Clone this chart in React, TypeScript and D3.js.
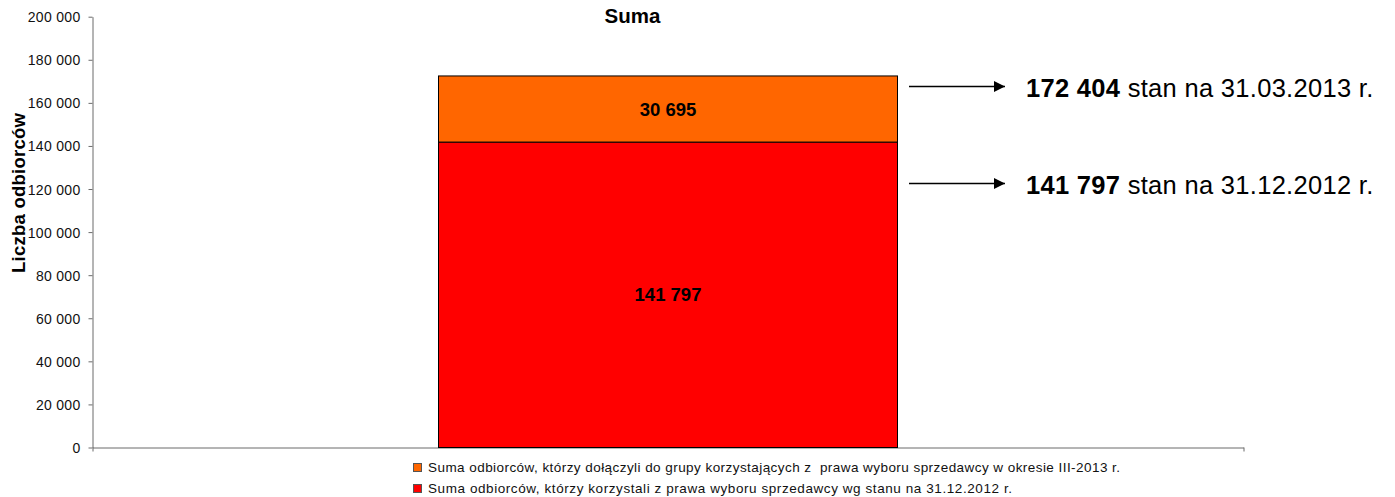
import * as d3 from "d3";
import React from "react";

// data
const categories = ["Suma"];
const baseValues = [141797]; // stan na 31.12.2012
const addedValues = [30695]; // dołączyli w okresie III-2013
const yTicks = [0, 20000, 40000, 60000, 80000, 100000, 120000, 140000, 160000, 180000, 200000];
const seriesNames = [
  "Suma odbiorców, którzy dołączyli do grupy korzystających z  prawa wyboru sprzedawcy w okresie III-2013 r.",
  "Suma odbiorców, którzy korzystali z prawa wyboru sprzedawcy wg stanu na 31.12.2012 r.",
];
const seriesColors = ["#FF6600", "#FF0000"];
const calloutBold = ["172 404", "141 797"];
const calloutText = [" stan na 31.03.2013 r.", " stan na 31.12.2012 r."];
// values where the callout arrows sit on the y scale
const calloutAt = [167600, 123000];

const W = 1395;
const H = 497;
const FONT = "'Liberation Sans', Arial, sans-serif";

const fmt = (v: number) => d3.format(",")(v).replace(/,/g, " ");

export default function App() {
  const svgRef = React.useRef<SVGSVGElement>(null);

  React.useEffect(() => {
    document.body.style.margin = "0";
    if (!svgRef.current) return;
    const svg = d3.select(svgRef.current);
    svg.selectAll("*").remove();

    const left = 92.5;
    const right = 1243.5;
    const y = d3.scaleLinear().domain([0, 200000]).range([447.5, 16.7]);
    const x = d3.scaleBand<string>().domain(categories).range([left, right]).paddingInner(0.4297).paddingOuter(0.4297);

    const axisColor = "#6b6b6b";

    // y axis
    const yAxis = d3.axisLeft<number>(y).tickValues(yTicks).tickSize(4).tickSizeOuter(0).tickPadding(8).tickFormat(fmt);
    const gy = svg.append("g").attr("transform", `translate(${left},0)`).call(yAxis as any);
    gy.select(".domain").attr("stroke", axisColor);
    gy.selectAll(".tick line").attr("stroke", axisColor);
    gy.selectAll(".tick text")
      .attr("fill", "#111")
      .attr("font-family", FONT)
      .attr("font-size", 14)
      .attr("letter-spacing", 0.3)
      .attr("dy", "0.36em");
    gy.attr("font-family", null).attr("font-size", null);

    // x axis (no labels, only category boundary ticks)
    const xl = d3.scaleLinear().domain([0, 1]).range([left, right]);
    const xAxis = d3.axisBottom<number>(xl).tickValues([0, 1]).tickSize(4).tickSizeOuter(0).tickFormat(() => "");
    const gx = svg.append("g").attr("transform", `translate(0,${y(0)})`).call(xAxis as any);
    gx.select(".domain").attr("stroke", axisColor);
    gx.selectAll(".tick line").attr("stroke", axisColor);

    // stacked bars
    const stackData = categories.map((c, i) => ({ cat: c, base: baseValues[i], added: addedValues[i] }));
    const stack = d3.stack<any>().keys(["base", "added"])(stackData);
    const colorFor: Record<string, string> = { base: seriesColors[1], added: seriesColors[0] };

    stack.forEach((layer) => {
      const g = svg.append("g");
      g.selectAll("rect")
        .data(layer)
        .enter()
        .append("rect")
        .attr("x", (d: any) => Math.round(x(d.data.cat)!) + 0.5)
        .attr("width", Math.round(x.bandwidth()))
        .attr("y", (d) => y(d[1]))
        .attr("height", (d) => y(d[0]) - y(d[1]))
        .attr("fill", colorFor[layer.key])
        .attr("stroke", "#000")
        .attr("stroke-width", 1);
      g.selectAll("text")
        .data(layer)
        .enter()
        .append("text")
        .attr("x", (d: any) => x(d.data.cat)! + x.bandwidth() / 2)
        .attr("y", (d) => (y(d[0]) + y(d[1])) / 2)
        .attr("dy", "0.36em")
        .attr("text-anchor", "middle")
        .attr("font-family", FONT)
        .attr("font-weight", "bold")
        .attr("font-size", 18.5)
        .attr("fill", "#000")
        .text((d) => fmt(d[1] - d[0]));
    });

    // title
    svg.append("text")
      .attr("x", 632.5)
      .attr("y", 23)
      .attr("text-anchor", "middle")
      .attr("font-family", FONT)
      .attr("font-weight", "bold")
      .attr("font-size", 20.5)
      .text("Suma");

    // y axis title
    svg.append("text")
      .attr("transform", `translate(25,193) rotate(-90)`)
      .attr("text-anchor", "middle")
      .attr("font-family", FONT)
      .attr("font-weight", "bold")
      .attr("font-size", 18.5)
      .attr("textLength", 160)
      .attr("lengthAdjust", "spacing")
      .text("Liczba odbiorców");

    // callouts with arrows
    const defs = svg.append("defs");
    defs.append("marker")
      .attr("id", "arrowhead")
      .attr("viewBox", "0 0 10 10")
      .attr("refX", 10)
      .attr("refY", 5)
      .attr("markerWidth", 15)
      .attr("markerHeight", 11)
      .attr("markerUnits", "userSpaceOnUse")
      .attr("orient", "auto")
      .append("path")
      .attr("d", "M0,0 L10,5 L0,10 Z")
      .attr("fill", "#000");

    calloutAt.forEach((v, i) => {
      const yy = Math.round(y(v)) + 0.5;
      svg.append("line")
        .attr("x1", 909)
        .attr("x2", 1005)
        .attr("y1", yy)
        .attr("y2", yy)
        .attr("stroke", "#000")
        .attr("stroke-width", 1.3)
        .attr("marker-end", "url(#arrowhead)");
      const t = svg.append("text")
        .attr("x", 1026)
        .attr("y", yy + 10)
        .attr("font-family", FONT)
        .attr("font-size", 25.5)
        .attr("letter-spacing", 0.3)
        .attr("fill", "#000")
        .style("white-space", "pre");
      t.append("tspan").attr("font-weight", "bold").text(calloutBold[i]);
      t.append("tspan").text(calloutText[i]);
    });

    // legend
    const legendLens = [692, 584];
    seriesNames.forEach((name, i) => {
      const cy = 467 + i * 21;
      svg.append("rect")
        .attr("x", 413.5)
        .attr("y", cy - 3.5)
        .attr("width", 8)
        .attr("height", 8)
        .attr("fill", seriesColors[i])
        .attr("stroke", "#555")
        .attr("stroke-width", 1);
      svg.append("text")
        .attr("x", 428)
        .attr("y", cy + 5)
        .attr("font-family", FONT)
        .attr("font-size", 13.5)
        .attr("textLength", legendLens[i])
        .attr("lengthAdjust", "spacing")
        .attr("fill", "#111")
        .style("white-space", "pre")
        .text(name);
    });
  }, []);

  return (
    <div style={{ width: W, height: H }}>
      <svg ref={svgRef} width={W} height={H} role="img" aria-label="Stacked bar chart" style={{ display: "block", background: "#fff" }} />
    </div>
  );
}
